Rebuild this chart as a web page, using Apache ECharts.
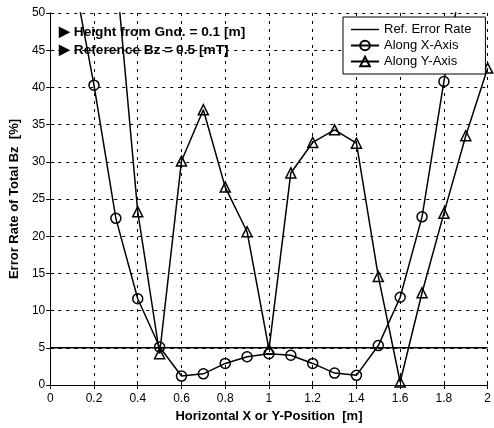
<!DOCTYPE html>
<html>
<head>
<meta charset="utf-8">
<script src="https://cdn.jsdelivr.net/npm/echarts@6/dist/echarts.min.js"></script>
<style>
  html, body { margin: 0; padding: 0; background: #fff; }
  #chart { width: 494px; height: 428px; }
</style>
</head>
<body>
<div id="chart"></div>
<script>
// Horizontal positions along the measurement line [m]
const positions = [0.1, 0.2, 0.3, 0.4, 0.5, 0.6, 0.7, 0.8, 0.9, 1.0,
                   1.1, 1.2, 1.3, 1.4, 1.5, 1.6, 1.7, 1.8, 1.9, 2.0];
// Error rate of total Bz [%] measured along the X axis
const errAlongX = [56, 40.3, 22.4, 11.6, 5.1, 1.2, 1.5, 2.9, 3.8, 4.2,
                   4.0, 2.9, 1.6, 1.3, 5.3, 11.8, 22.6, 40.8, 58, null];
// Error rate of total Bz [%] measured along the Y axis
const errAlongY = [null, null, 56, 23.3, 4.2, 30.1, 37.0, 26.6, 20.6, 4.8,
                   28.5, 32.6, 34.3, 32.5, 14.6, 0.4, 12.4, 23.1, 33.5, 42.6];
// Reference error rate [%]
const refErrorRate = 5;
const refSpan = [0, 2];

const seriesNames = ['Ref. Error Rate', 'Along X-Axis', 'Along Y-Axis'];
const notes = ['Height from Gnd. = 0.1 [m]', 'Reference Bz = 0.5 [mT]'];

const pairs = (xs, ys) => xs.map((x, i) => [x, ys[i]]).filter(p => p[1] !== null);

const FONT = '"Liberation Sans", Arial, sans-serif';
const chart = echarts.init(document.getElementById('chart'));

const dotted = { color: '#000', width: 1, type: [3, 5] };
const tickIn = { show: true, inside: true, length: 4, lineStyle: { color: '#000' } };
const plainLine = { show: true, lineStyle: { color: '#000', width: 1 } };

// plain horizontal stroke used as the legend key of the reference line
const lineKey = 'path://M0,0M0,5.3L28,5.3L28,6.7L0,6.7ZM28,12';

chart.setOption({
  animation: false,
  backgroundColor: '#fff',
  grid: { left: 44, right: 5, top: 13, bottom: 43 },
  xAxis: [{
    type: 'value', min: 0, max: 2, interval: 0.2,
    name: 'Horizontal X or Y-Position  [m]', nameLocation: 'middle', nameGap: 25,
    nameTextStyle: { fontFamily: FONT, fontSize: 13, fontWeight: 'bold', color: '#000' },
    axisLine: plainLine, axisTick: tickIn,
    axisLabel: { fontFamily: FONT, fontSize: 12, color: '#000', margin: 8,
                 formatter: v => (Math.abs(v - Math.round(v)) < 1e-9 ? String(Math.round(v)) : v.toFixed(1)) },
    splitLine: { show: true, lineStyle: dotted }
  }, {
    type: 'value', position: 'top', min: 0, max: 2, interval: 0.2,
    axisLine: plainLine, axisTick: tickIn, axisLabel: { show: false }, splitLine: { show: false }
  }],
  yAxis: [{
    type: 'value', min: 0, max: 50, interval: 5,
    name: 'Error Rate of Total Bz  [%]', nameLocation: 'middle', nameGap: 28, nameRotate: 90,
    nameTextStyle: { fontFamily: FONT, fontSize: 13, fontWeight: 'bold', color: '#000' },
    axisLine: plainLine, axisTick: tickIn,
    axisLabel: { fontFamily: FONT, fontSize: 12, color: '#000', margin: 5 },
    splitLine: { show: true, lineStyle: dotted }
  }, {
    type: 'value', position: 'right', min: 0, max: 50, interval: 5,
    axisLine: plainLine, axisTick: tickIn, axisLabel: { show: false }, splitLine: { show: false }
  }],
  legend: {
    orient: 'vertical', left: 343, top: 17,
    padding: [6, 14, 6, 7], itemGap: 3, itemWidth: 28, itemHeight: 12,
    backgroundColor: '#fff', borderColor: '#000', borderWidth: 1,
    textStyle: { fontFamily: FONT, fontSize: 13, color: '#000', lineHeight: 13 },
    data: [
      { name: seriesNames[0], icon: lineKey, itemStyle: { color: '#000', borderWidth: 0 } },
      { name: seriesNames[1] },
      { name: seriesNames[2] }
    ]
  },
  graphic: notes.map((t, i) => ({
    type: 'text', left: 59, top: 25 + i * 18.5, z: 0,
    style: { text: '\u25B6 ' + t, fontFamily: FONT, fontSize: 13.7, fontWeight: 'bold', fill: '#000' }
  })),
  series: [
    {
      name: seriesNames[0], type: 'line', symbol: 'none',
      data: refSpan.map(x => [x, refErrorRate]),
      lineStyle: { color: '#000', width: 1.5 }, itemStyle: { color: '#000' }, z: 3
    },
    {
      name: seriesNames[1], type: 'line', symbol: 'circle', symbolSize: 10,
      data: pairs(positions, errAlongX),
      lineStyle: { color: '#000', width: 1.5 },
      itemStyle: { color: 'transparent', borderColor: '#000', borderWidth: 1.5 }, z: 3
    },
    {
      name: seriesNames[2], type: 'line', symbol: 'triangle', symbolSize: 10,
      data: pairs(positions, errAlongY),
      lineStyle: { color: '#000', width: 1.5 },
      itemStyle: { color: 'transparent', borderColor: '#000', borderWidth: 1.5 }, z: 3
    }
  ]
});
</script>
</body>
</html>
